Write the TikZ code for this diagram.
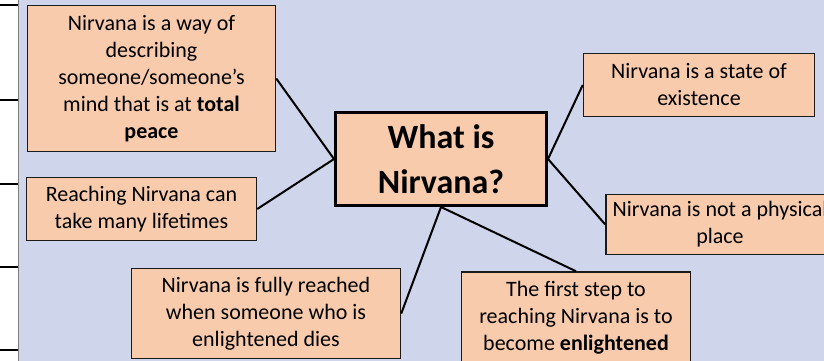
\documentclass[tikz,border=0pt]{standalone}
\usepackage{fontspec}
\setmainfont{Carlito}
\usepackage{tikz}
\usetikzlibrary{shapes,arrows,positioning}
\definecolor{bgblue}{RGB}{207,213,234}
\definecolor{peach}{RGB}{248,203,173}
\definecolor{edgegrey}{RGB}{26,26,26}

\begin{document}
\begin{tikzpicture}[x=1pt, y=1pt, node distance=100pt, auto]
    % Define styles
    \tikzstyle{fact} = [rectangle, align=center, text centered, draw=edgegrey, line width=1.5pt, fill=peach, inner sep=2pt, font=\fontsize{22}{27}\selectfont]
    \tikzstyle{question} = [rectangle, align=center, text centered, draw=black, line width=3pt, fill=peach, minimum width=211pt, minimum height=93pt, font=\fontsize{34}{45}\selectfont\bfseries]
    \tikzstyle{link} = [draw=black, line width=2pt]

    % Background
    \useasboundingbox (0,0) rectangle (824,-361);
    \fill[white] (0,0) rectangle (18,-361);
    \fill[bgblue] (18,0) rectangle (824,-361);
    \draw[gray, line width=0.8pt] (18,0) -- (18,-361);
    \foreach \y in {5,100,184,267,350}
        \draw[black, line width=1.2pt] (0,-\y) -- (18,-\y);

    % Nodes
    \node[question] (what) at (441,-159) {What is\\Nirvana?};
    \node[fact, minimum width=248pt, minimum height=146pt, left of=what, xshift=-189.5pt, yshift=80.5pt] (peace) {Nirvana is a way of\\describing\\someone/someone’s\\mind that is at \textbf{total}\\\textbf{peace}};
    \node[fact, minimum width=230pt, minimum height=63pt, left of=what, xshift=-199.5pt, yshift=-50pt] (lifetimes) {Reaching Nirvana can\\take many lifetimes};
    \node[fact, minimum width=269pt, minimum height=90pt, left of=what, xshift=-75pt, yshift=-154.5pt] (dies) {Nirvana is fully reached\\when someone who is\\enlightened dies};
    \node[fact, minimum width=231pt, minimum height=63pt, right of=what, xshift=158pt, yshift=74pt] (state) {Nirvana is a state of\\existence};
    \node[fact, minimum width=228pt, minimum height=60pt, right of=what, xshift=179pt, yshift=-65.5pt] (physical) {Nirvana is not a physical\\place};
    \node[fact, minimum width=229pt, minimum height=91pt, right of=what, xshift=35pt, yshift=-158.5pt] (firststep) {The first step to\\reaching Nirvana is to\\become \textbf{enlightened}};

    % Connections
    \draw[link] (peace.east) -- (what.west);
    \draw[link] (lifetimes.east) -- (what.west);
    \draw[link] (dies.east) -- (what.south);
    \draw[link] (firststep.north) -- (what.south);
    \draw[link] (state.west) -- (what.east);
    \draw[link] (physical.west) -- (what.east);
\end{tikzpicture}
\end{document}
